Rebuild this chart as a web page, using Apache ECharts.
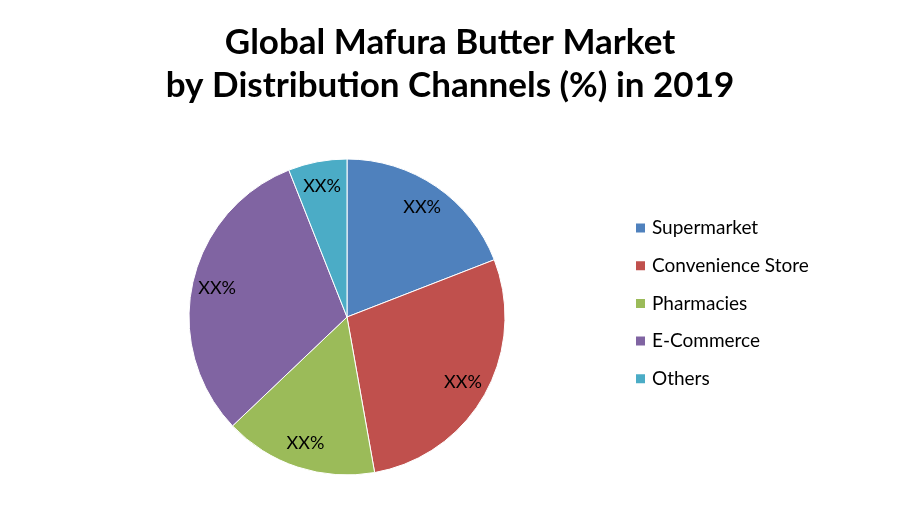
<!DOCTYPE html>
<html><head><meta charset="utf-8">
<script src="https://cdn.jsdelivr.net/npm/echarts@6/dist/echarts.min.js"></script>
<style>html,body{margin:0;padding:0;background:#fff}#c{width:900px;height:525px}</style>
</head><body><div id="c"></div>
<script>
var categories = ['Supermarket', 'Convenience Store', 'Pharmacies', 'E-Commerce', 'Others'];
var values = [19.1, 28.1, 15.7, 31.1, 6.0];
var labelTexts = ['XX%', 'XX%', 'XX%', 'XX%', 'XX%'];
var colors = ['#4F81BD', '#C0504D', '#9BBB59', '#8064A2', '#4BACC6'];
var titleText = 'Global Mafura Butter Market\nby Distribution Channels (%) in 2019';

var font = 'Lato, "Open Sans", sans-serif';
var chart = echarts.init(document.getElementById('c'), null, {renderer: 'canvas'});
var pieData = categories.map(function (n, i) { return {name: n, value: values[i], itemStyle: {color: colors[i]}}; });
var labelData = categories.map(function (n, i) { return {name: n, value: values[i], label: {formatter: labelTexts[i]}}; });
chart.setOption({
  animation: false,
  title: {
    text: titleText, left: 'center', top: 21, padding: 0,
    textStyle: {fontFamily: font, fontWeight: 'bold', fontSize: 35, lineHeight: 43, color: '#000'}
  },
  legend: {
    data: categories, orient: 'vertical', left: 634, top: 217, padding: 0,
    itemWidth: 11, itemHeight: 11, itemGap: 15.7, icon: 'rect',
    textStyle: {fontFamily: font, fontSize: 19, lineHeight: 22, color: '#000', padding: [0, 0, 0, 1]}
  },
  series: [{
    type: 'pie', center: [347, 317], radius: [0, 158], startAngle: 90, clockwise: true,
    data: pieData, label: {show: false}, labelLine: {show: false},
    itemStyle: {borderColor: '#fff', borderWidth: 1}, emphasis: {disabled: true}, silent: true
  }, {
    type: 'pie', center: [347, 317], radius: [102, 158], startAngle: 90, clockwise: true,
    data: labelData, silent: true, emphasis: {disabled: true}, legendHoverLink: false,
    itemStyle: {color: 'rgba(0,0,0,0)'}, labelLine: {show: false},
    label: {show: true, position: 'inside', fontFamily: font, fontSize: 18, color: '#000'}
  }]
});
</script></body></html>
